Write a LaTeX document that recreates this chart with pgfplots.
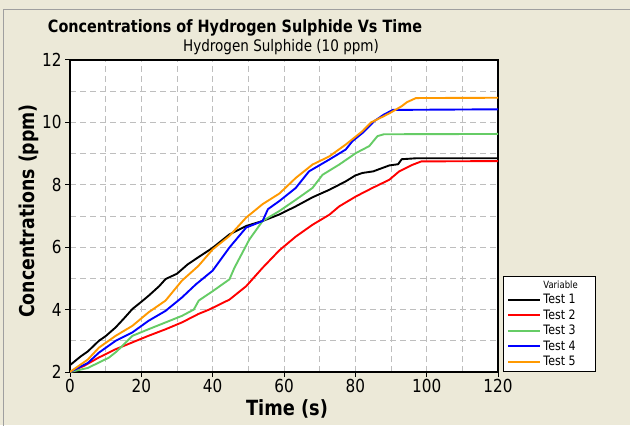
\documentclass[border=0pt]{standalone}
\usepackage{fontspec}
\setmainfont[FakeStretch=0.85]{DejaVu Sans}
\usepackage{pgfplots}
\pgfplotsset{compat=1.18}
\definecolor{bg}{RGB}{236,233,216}
\definecolor{tgreen}{RGB}{102,204,102}
\definecolor{torange}{RGB}{255,153,0}
\definecolor{gridc}{RGB}{190,190,190}
\begin{document}
\begin{tikzpicture}[x=1bp,y=1bp]
\useasboundingbox (0,0) rectangle (630,425);
\fill[bg] (0,0) rectangle (630,425);
\draw[gray!75, line width=1bp] (3,-1) -- (3,415) -- (631,415);
\begin{axis}[
  at={(70bp,53bp)}, anchor=south west,
  scale only axis, width=428bp, height=312bp,
  xmin=0, xmax=120, ymin=2, ymax=12,
  xtick={0,20,...,120}, ytick={2,4,...,12},
  minor xtick={10,30,...,110}, minor ytick={3,5,...,11},
  grid=both,
  major grid style={gridc, line width=1bp, dash pattern=on 6bp off 4bp},
  minor grid style={gridc, line width=1bp, dash pattern=on 6bp off 4bp},
  tick pos=left, tick align=outside,
  major tick length=5bp, minor tick length=0bp,
  major tick style={black, line width=1bp},
  axis line style={black, line width=1.1bp},
  /pgf/number format/assume math mode=true,
  tick label style={font=\fontsize{18}{18}\selectfont, text=black},
  xticklabel style={yshift=1bp},
  axis background/.style={fill=white},
  legend style={at={(1.0117,0)}, anchor=south west, draw=black, fill=white,
    line width=0.8bp, font=\fontsize{13}{13}\selectfont,
    inner xsep=4bp, inner ysep=2.5bp, row sep=0.5bp, cells={anchor=west}},
  legend image code/.code={\draw[#1, line width=2bp] (0bp,0bp) -- (32bp,0bp);},
  every axis plot/.append style={line width=1.9bp, line join=round},
]
\addlegendimage{empty legend}
\addlegendentry{\fontsize{10}{10}\selectfont\makebox[46bp][l]{Variable}}

\addplot[black] coordinates {
(0,2.22) (3,2.5) (5,2.66) (8.1,3.0) (10,3.15) (12.8,3.43) (15,3.7) (17.5,4.02)
(20,4.25) (22.1,4.45) (25,4.75) (26.8,4.98) (30,5.15) (33,5.45) (36,5.68)
(40,5.98) (44.7,6.41) (49.4,6.68) (54,6.84) (58.7,7.05) (63.3,7.31) (68,7.6)
(72.7,7.84) (77.3,8.11) (80,8.3) (82,8.38) (85,8.43) (89.5,8.62) (92,8.66)
(93,8.82) (97,8.85) (120,8.85)};
\addlegendentry{\makebox[46bp][l]{Test 1}}

\addplot[red] coordinates {
(0,2.0) (4,2.2) (8,2.46) (12.8,2.73) (17.5,2.95) (22,3.16) (26.8,3.37)
(31.4,3.59) (36,3.86) (39,4.0) (44.7,4.32) (49.4,4.75) (54,5.34)
(58.7,5.9) (63.3,6.34) (68,6.72) (72.7,7.04) (75.5,7.31) (80.2,7.63)
(84.8,7.9) (89.5,8.16) (92.3,8.43) (96,8.64) (98.5,8.75) (120,8.76)};
\addlegendentry{Test 2}

\addplot[tgreen] coordinates {
(0,2.0) (5,2.13) (10.9,2.46) (13,2.65) (15.6,2.94) (17.5,3.16) (22,3.37)
(26.8,3.59) (31.4,3.80) (34.7,4.0) (36.1,4.29) (40,4.59) (44.7,4.97)
(46.1,5.34) (50.3,6.25) (54,6.84) (58.7,7.16) (63.3,7.52) (68,7.9)
(70.8,8.32) (75.5,8.65) (80.2,9.02) (83.9,9.24) (86.2,9.56) (88,9.62) (120,9.63)};
\addlegendentry{Test 3}

\addplot[blue] coordinates {
(0,2.0) (5,2.29) (8.1,2.62) (12.8,3.0) (17.5,3.27) (22,3.64) (26.8,3.96)
(31.4,4.39) (35.3,4.81) (40,5.25) (44.7,5.99) (49.4,6.63) (54,6.84)
(55.5,7.22) (58.7,7.48) (63.3,7.9) (67,8.43) (72.7,8.81) (77.3,9.13)
(79.2,9.4) (82,9.66) (85.3,10.04) (88,10.25) (90.5,10.4) (120,10.42)};
\addlegendentry{Test 4}

\addplot[torange] coordinates {
(0,2.0) (5,2.4) (8.1,2.78) (12.8,3.16) (17.5,3.48) (22,3.91) (26.8,4.29)
(31.4,4.93) (36,5.4) (40,5.93) (44.7,6.36) (49.4,6.95) (54,7.38) (58.7,7.72)
(63.3,8.22) (68,8.65) (72.7,8.91) (77.3,9.29) (82,9.72) (84.4,10.0) (88,10.2)
(90,10.32) (93,10.52) (94.5,10.65) (97,10.78) (120,10.79)};
\addlegendentry{Test 5}
\end{axis}
\node[anchor=base, font=\fontsize{17}{18}\selectfont\bfseries] at (235,392) {Concentrations of Hydrogen Sulphide Vs Time};
\node[anchor=base, font=\fontsize{16}{16}\selectfont] at (281,374) {Hydrogen Sulphide (10 ppm)};
\node[anchor=base, font=\fontsize{21}{21}\selectfont\bfseries] at (287,10) {Time (s)};
\node[anchor=base, rotate=90, font=\fontsize{20.5}{21}\selectfont\bfseries] at (34,214) {Concentrations (ppm)};
\end{tikzpicture}
\end{document}
